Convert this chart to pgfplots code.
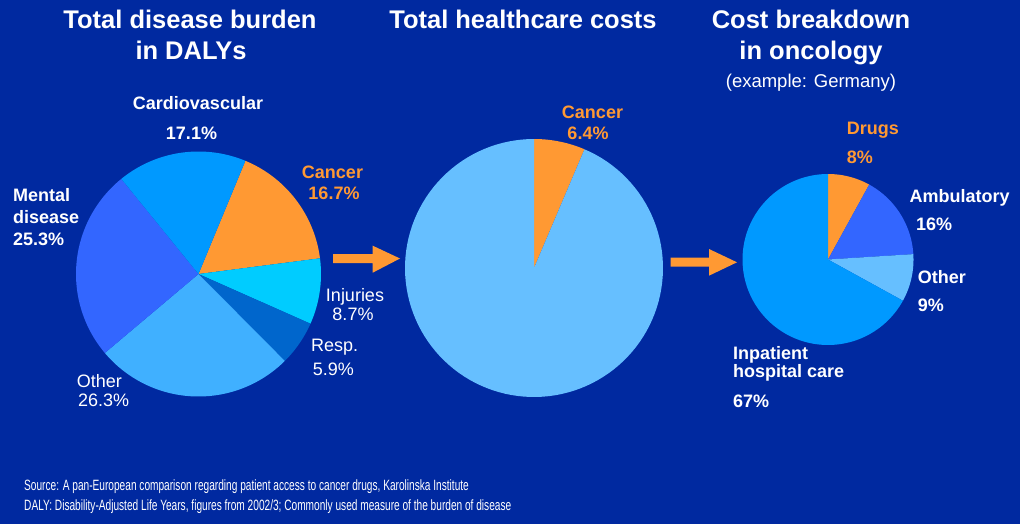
\documentclass[border=0pt]{standalone}
\usepackage{pgfplots}
\pgfplotsset{compat=1.18}
\usepgfplotslibrary{polar}
\usepackage{fontspec}
\setmainfont{Liberation Sans}
\newfontfamily\narrowfont[FakeStretch=0.68]{Liberation Sans}
\definecolor{bg}{RGB}{0,41,160}
\definecolor{orng}{RGB}{255,153,51}
\definecolor{cardio}{RGB}{0,153,255}
\definecolor{mental}{RGB}{51,102,255}
\definecolor{injur}{RGB}{0,204,255}
\definecolor{resp}{RGB}{0,102,204}
\definecolor{otherA}{RGB}{64,176,255}
\definecolor{lightb}{RGB}{102,191,255}
\definecolor{edge}{RGB}{10,40,140}
% #1 colour, #2 start angle, #3 cumulative percent before, #4 percent
\newcommand\slice[4]{%
  \pgfmathsetmacro\sliceA{#2-3.6*#3}%
  \pgfmathsetmacro\sliceB{#2-3.6*(#3+#4)}%
  \addplot[fill=#1, draw=none, domain=\sliceB:\sliceA, samples=120] {1} -- (axis cs:0,0) -- cycle;
}
\pgfplotsset{pie/.style={hide axis, scale only axis, clip=false,
  xmin=0, xmax=360, ymin=0, ymax=1, anchor=center}}
\begin{document}
\begin{tikzpicture}[x=1pt,y=-1pt]
\fill[bg] (0,0) rectangle (1020,524);
% ---- pie 1: DALYs
\begin{polaraxis}[pie, at={(198.5pt,-274pt)}, width=245pt, height=245pt]
\slice{orng}{67.5}{0}{16.7}
\slice{injur}{67.5}{16.7}{8.7}
\slice{resp}{67.5}{25.4}{5.9}
\slice{otherA}{67.5}{31.3}{26.3}
\slice{mental}{67.5}{57.6}{25.3}
\slice{cardio}{67.5}{82.9}{17.1}
\end{polaraxis}
% ---- pie 2: healthcare costs
\begin{polaraxis}[pie, at={(534pt,-268pt)}, width=258pt, height=258pt]
\slice{orng}{90}{0}{6.4}
\slice{lightb}{90}{6.4}{93.6}
\end{polaraxis}
% ---- pie 3: oncology
\begin{polaraxis}[pie, at={(828pt,-259.5pt)}, width=171pt, height=171pt]
\slice{orng}{90}{0}{8}
\slice{mental}{90}{8}{16}
\slice{lightb}{90}{24}{9}
\slice{cardio}{90}{33}{67}
\end{polaraxis}
% arrows
\fill[orng] (333,254) -- (372.7,254) -- (372.7,245.7) -- (400,258.5) -- (372.7,272.7) -- (372.7,263) -- (333,263) -- cycle;
\fill[orng] (670.7,257.7) -- (709,257.7) -- (709,249) -- (737,262.3) -- (709,275.7) -- (709,266.7) -- (670.7,266.7) -- cycle;
% titles
\begin{scope}[every node/.style={inner sep=0pt, text=white, font=\fontsize{25.5}{30}\selectfont\bfseries}]
\node[anchor=base] at (190,28.3) {Total disease burden};
\node[anchor=base] at (191,60) {in DALYs};
\node[anchor=base] at (523,28.3) {Total healthcare costs};
\node[anchor=base] at (811,28.3) {Cost breakdown};
\node[anchor=base] at (811,60) {in oncology};
\end{scope}
\node[anchor=base, inner sep=0pt, text=white, font=\fontsize{18.5}{22}\selectfont] at (811,87.5) {(example: Germany)};
% bold labels
\begin{scope}[every node/.style={inner sep=0pt, text=white, font=\fontsize{18}{22}\selectfont\bfseries}]
\node[anchor=base] at (198,110) {Cardiovascular};
\node[anchor=base] at (191.5,140) {17.1\%};
\node[anchor=base west] at (13,201) {Mental};
\node[anchor=base west] at (13,223.3) {disease};
\node[anchor=base west] at (13,245.7) {25.3\%};
\node[anchor=base, text=orng] at (332.5,178.3) {Cancer};
\node[anchor=base, text=orng] at (334,199.3) {16.7\%};
\node[anchor=base, text=orng] at (592.5,119) {Cancer};
\node[anchor=base, text=orng] at (588,139.3) {6.4\%};
\node[anchor=base west, text=orng] at (846.7,134.3) {Drugs};
\node[anchor=base west, text=orng] at (846.7,163.3) {8\%};
\node[anchor=base west] at (909.3,202.3) {Ambulatory};
\node[anchor=base west] at (916,230) {16\%};
\node[anchor=base west] at (917.7,283.3) {Other};
\node[anchor=base west] at (917.7,311.7) {9\%};
\node[anchor=base west] at (733,359) {Inpatient};
\node[anchor=base west] at (733,377.7) {hospital care};
\node[anchor=base west] at (733,407.3) {67\%};
\end{scope}
% regular labels
\begin{scope}[every node/.style={inner sep=0pt, text=white, font=\fontsize{18}{22}\selectfont}]
\node[anchor=base] at (355,301.7) {Injuries};
\node[anchor=base] at (353,320.7) {8.7\%};
\node[anchor=base west] at (311,351.7) {Resp.};
\node[anchor=base west] at (312.7,375.7) {5.9\%};
\node[anchor=base west] at (76.7,387.3) {Other};
\node[anchor=base west] at (78,406) {26.3\%};
\end{scope}
% footnote
\begin{scope}[every node/.style={inner sep=0pt, text=white, anchor=base west, font=\narrowfont\fontsize{14.9}{17}\selectfont}]
\node at (24,490) {Source: A pan-European comparison regarding patient access to cancer drugs, Karolinska Institute};
\node at (24,510) {DALY: Disability-Adjusted Life Years, figures from 2002/3; Commonly used measure of the burden of disease};
\end{scope}
\end{tikzpicture}
\end{document}
